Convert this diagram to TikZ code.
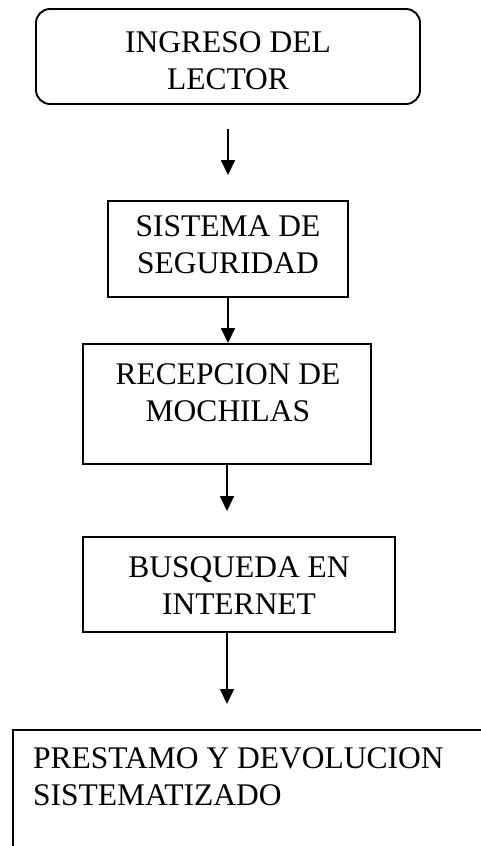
\documentclass[tikz,border=0pt]{standalone}
\usepackage{fontspec}
\setmainfont{Liberation Serif}
\usetikzlibrary{arrows.meta}
\begin{document}
\begin{tikzpicture}[x=1pt,y=-1pt,
  boxline/.style={draw=black, line width=1.9pt, inner sep=0pt},
  lbl/.style={inner sep=0pt, align=center, font=\fontsize{31.5}{37}\selectfont},
  arr/.style={line width=1.6pt, -{Triangle[length=15pt,width=14pt]}}]
\clip (0,0) rectangle (481,846);
\fill[white] (0,0) rectangle (481,846);
% boxes
\node[boxline, rounded corners=14pt, minimum width=384pt, minimum height=95pt] (ingreso) at (228,56.5) {};
\node[lbl] (tingreso) at (228,61) {INGRESO DEL\\LECTOR};
\node[boxline, minimum width=240pt, minimum height=96pt] (sistema) at (228,249) {};
\node[lbl] (tsistema) at (228,245) {SISTEMA DE\\SEGURIDAD};
\node[boxline, minimum width=288pt, minimum height=120pt] (recep) at (227,404) {};
\node[lbl] (trecep) at (228,393) {RECEPCION DE\\MOCHILAS};
\node[boxline, minimum width=312pt, minimum height=95pt] (busq) at (239,584.5) {};
\node[lbl] (tbusq) at (239,586) {BUSQUEDA EN\\INTERNET};
\node[boxline, anchor=north west, minimum width=520pt, minimum height=160pt] (prest) at (12,729) {};
\node[lbl, align=left, anchor=north west] (tprest) at (33,747) {PRESTAMO Y DEVOLUCION\\SISTEMATIZADO};
% connectors
\draw[arr, shorten <=24pt, shorten >=25pt] (ingreso.south) -- (sistema.north);
\draw[arr] (sistema.south) -- (recep.north -| sistema.south);
\draw[arr, shorten >=25pt] (recep.south) -- (busq.north -| recep.south);
\draw[arr, shorten >=25pt] (busq.south -| recep.south) -- (prest.north -| recep.south);
\end{tikzpicture}
\end{document}
